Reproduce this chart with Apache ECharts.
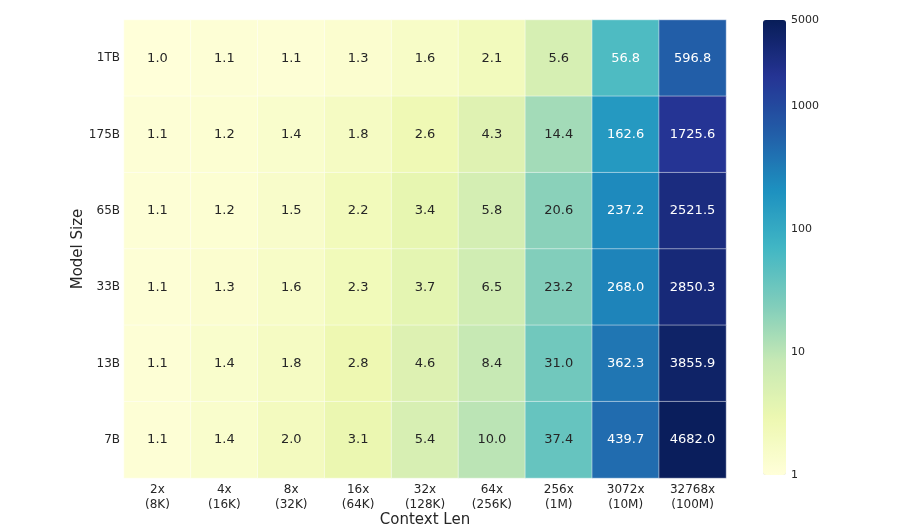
<!DOCTYPE html>
<html>
<head>
<meta charset="utf-8">
<script src="https://cdn.jsdelivr.net/npm/echarts@6/dist/echarts.min.js"></script>
<style>
  html, body { margin: 0; padding: 0; background: #fff; }
  #main { width: 907px; height: 527px; }
</style>
</head>
<body>
<div id="main"></div>
<script>
const contextLens = ['2x\n(8K)', '4x\n(16K)', '8x\n(32K)', '16x\n(64K)', '32x\n(128K)', '64x\n(256K)', '256x\n(1M)', '3072x\n(10M)', '32768x\n(100M)'];
const modelSizes = ['1TB', '175B', '65B', '33B', '13B', '7B'];

// one row per model size, one value per context length
const row1TB  = [1.0, 1.1, 1.1, 1.3, 1.6, 2.1, 5.6, 56.8, 596.8];
const row175B = [1.1, 1.2, 1.4, 1.8, 2.6, 4.3, 14.4, 162.6, 1725.6];
const row65B  = [1.1, 1.2, 1.5, 2.2, 3.4, 5.8, 20.6, 237.2, 2521.5];
const row33B  = [1.1, 1.3, 1.6, 2.3, 3.7, 6.5, 23.2, 268.0, 2850.3];
const row13B  = [1.1, 1.4, 1.8, 2.8, 4.6, 8.4, 31.0, 362.3, 3855.9];
const row7B   = [1.1, 1.4, 2.0, 3.1, 5.4, 10.0, 37.4, 439.7, 4682.0];

// colour bar: log scale from 1 to 5000, a label each decade plus the top
const colorMin = 1, colorMax = 5000;

const rows = [row1TB, row175B, row65B, row33B, row13B, row7B];
const ylgnbu = ['#ffffd9', '#edf8b1', '#c7e9b4', '#7fcdbb', '#41b6c4', '#1d91c0', '#225ea8', '#253494', '#081d58'];
const FONT = 'DejaVu Sans';

// heatmap data: [col, row, log10(value), value]
const cells = [];
rows.forEach((r, yi) => {
  r.forEach((v, xi) => {
    cells.push({
      value: [xi, yi, Math.log10(v), v],
      label: { color: v > 50 ? '#ffffff' : '#262626' }
    });
  });
});

const logMin = Math.log10(colorMin);
const logMax = Math.log10(colorMax);

const chart = echarts.init(document.getElementById('main'), null, { renderer: 'canvas' });
chart.setOption({
  animation: false,
  backgroundColor: '#ffffff',
  textStyle: { fontFamily: FONT },
  grid: [
    { left: 124, top: 20, width: 602, height: 458, outerBoundsMode: 'none', containLabel: false },
    { left: 763, top: 20, width: 23, height: 455, outerBoundsMode: 'none', containLabel: false }
  ],
  xAxis: [
    {
      type: 'category',
      gridIndex: 0,
      data: contextLens,
      name: 'Context Len',
      nameLocation: 'middle',
      nameGap: 35,
      nameMoveOverlap: false,
      nameTextStyle: { fontFamily: FONT, fontSize: 15, color: '#262626' },
      axisLine: { show: false },
      axisTick: { show: false },
      splitLine: { show: false },
      axisLabel: { fontFamily: FONT, fontSize: 12, color: '#262626', margin: 4, lineHeight: 15 }
    },
    {
      type: 'value',
      gridIndex: 1,
      show: false,
      min: 0,
      max: 1
    }
  ],
  yAxis: [
    {
      type: 'category',
      gridIndex: 0,
      data: modelSizes,
      inverse: true,
      name: 'Model Size',
      nameLocation: 'middle',
      nameGap: 38,
      nameMoveOverlap: false,
      nameRotate: 90,
      nameTextStyle: { fontFamily: FONT, fontSize: 15, color: '#262626' },
      axisLine: { show: false },
      axisTick: { show: false },
      splitLine: { show: false },
      axisLabel: { fontFamily: FONT, fontSize: 12, color: '#262626', margin: 4 }
    },
    {
      type: 'value',
      gridIndex: 1,
      position: 'right',
      min: logMin,
      max: logMax,
      interval: 1,
      axisLine: { show: false },
      splitLine: { show: false },
      axisTick: { show: false },
      axisLabel: {
        fontFamily: FONT,
        fontSize: 11,
        color: '#262626',
        margin: 5,
        showMinLabel: true,
        showMaxLabel: true,
        formatter: v => String(Math.round(Math.pow(10, v)))
      }
    }
  ],
  visualMap: {
    type: 'continuous',
    min: logMin,
    max: logMax,
    dimension: 2,
    seriesIndex: 0,
    calculable: false,
    hoverLink: false,
    left: 763,
    top: 20,
    padding: 0,
    itemWidth: 23,
    itemHeight: 455,
    text: ['', ''],
    inRange: { color: ylgnbu }
  },
  series: [
    {
      type: 'heatmap',
      xAxisIndex: 0,
      yAxisIndex: 0,
      data: cells,
      itemStyle: { borderColor: 'rgba(255,255,255,0.8)', borderWidth: 0.6 },
      label: {
        show: true,
        fontFamily: FONT,
        fontSize: 13,
        formatter: p => p.value[3].toFixed(1)
      },
      emphasis: { disabled: true }
    }
  ]
});
</script>
</body>
</html>
